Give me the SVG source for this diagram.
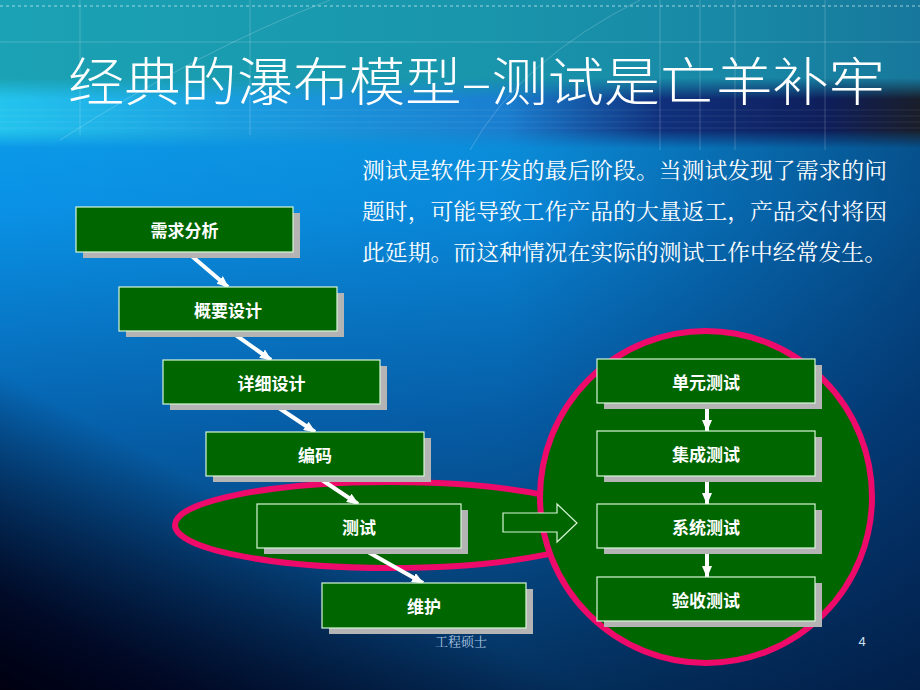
<svg xmlns="http://www.w3.org/2000/svg" width="920" height="690" viewBox="0 0 920 690">
<defs>
<linearGradient id="bg" x1="0" y1="0" x2="0" y2="1">
<stop offset="0" stop-color="#10a8ee"/>
<stop offset="0.3" stop-color="#0a92e6"/>
<stop offset="0.6" stop-color="#0664b0"/>
<stop offset="1" stop-color="#043462"/>
</linearGradient>
<linearGradient id="side" x1="0" y1="0" x2="1" y2="0">
<stop offset="0" stop-color="#000a30" stop-opacity="0"/>
<stop offset="0.55" stop-color="#000a30" stop-opacity="0.08"/>
<stop offset="1" stop-color="#000a30" stop-opacity="0.5"/>
</linearGradient>
<linearGradient id="corner" x1="0" y1="1" x2="0.22" y2="0.7">
<stop offset="0" stop-color="#000010" stop-opacity="1"/>
<stop offset="0.3" stop-color="#000018" stop-opacity="0.85"/>
<stop offset="1" stop-color="#000018" stop-opacity="0"/>
</linearGradient>
<linearGradient id="band" x1="0" y1="0" x2="1" y2="0">
<stop offset="0" stop-color="#1ba2b4"/>
<stop offset="0.5" stop-color="#1996ac"/>
<stop offset="0.8" stop-color="#1888a6"/>
<stop offset="1" stop-color="#17789c"/>
</linearGradient>
<linearGradient id="lowband" x1="0" y1="0" x2="1" y2="0">
<stop offset="0" stop-color="#24c4ee"/>
<stop offset="0.25" stop-color="#1a9ee0"/>
<stop offset="0.55" stop-color="#1a7ed0"/>
<stop offset="0.72" stop-color="#10307c"/>
<stop offset="0.9" stop-color="#0e1e5a"/>
<stop offset="1" stop-color="#1a1e2a"/>
</linearGradient>
<linearGradient id="lowfade" x1="0" y1="0" x2="0" y2="1">
<stop offset="0" stop-color="#ffffff" stop-opacity="0"/>
<stop offset="0.3" stop-color="#ffffff" stop-opacity="1"/>
<stop offset="0.75" stop-color="#ffffff" stop-opacity="1"/>
<stop offset="1" stop-color="#ffffff" stop-opacity="0"/>
</linearGradient>
<mask id="lm"><rect x="0" y="78" width="920" height="70" fill="url(#lowfade)"/></mask>
<linearGradient id="bandbottom" x1="0" y1="0" x2="0" y2="1">
<stop offset="0" stop-color="#ffffff" stop-opacity="1"/>
<stop offset="0.85" stop-color="#ffffff" stop-opacity="1"/>
<stop offset="1" stop-color="#ffffff" stop-opacity="0"/>
</linearGradient>
<mask id="bm"><rect x="0" y="0" width="920" height="140" fill="url(#bandbottom)"/></mask>
<marker id="ah" viewBox="0 0 12 10" refX="11" refY="5" markerWidth="12" markerHeight="10" markerUnits="userSpaceOnUse" orient="auto">
<path d="M0,0 L12,5 L0,10 Z" fill="#ffffff"/>
</marker>
<style>
.box{fill:#006600;stroke:#d8f5d8;stroke-width:1.2}
.sh{fill:#b4b4b4}
.lbl{fill:#ffffff;font-family:"Noto Sans CJK SC","Noto Sans",sans-serif;font-size:17px;font-weight:bold;text-anchor:middle;dominant-baseline:central}
.con{stroke:#ffffff;stroke-width:4;fill:none;marker-end:url(#ah)}
.para{fill:#ffffff;font-family:"Noto Serif CJK SC","Noto Sans CJK SC",serif;font-size:22px}
.grid{stroke:#ffffff;stroke-opacity:0.2;stroke-width:1}
.hl{stroke:#ffffff;stroke-opacity:0.08;stroke-width:1}
</style>
</defs>
<rect width="920" height="690" fill="url(#bg)"/>
<rect width="920" height="690" fill="url(#side)"/>
<rect width="920" height="690" fill="url(#corner)"/>
<g id="title-band">
<rect x="0" y="0" width="920" height="140" fill="url(#band)" mask="url(#bm)"/>
<rect x="0" y="78" width="920" height="70" fill="url(#lowband)" mask="url(#lm)"/>
<line x1="0" y1="6" x2="920" y2="6" stroke="#d8f4f8" stroke-width="1" stroke-dasharray="3,3" opacity="0.7"/>
<line x1="0" y1="42" x2="920" y2="42" class="grid"/>
<line x1="0" y1="110" x2="920" y2="110" class="hl"/>
<line x1="0" y1="116" x2="920" y2="116" class="hl"/>
<line x1="0" y1="122" x2="920" y2="122" class="hl"/>
<line x1="0" y1="128" x2="920" y2="128" class="hl"/>
<line x1="80" y1="0" x2="80" y2="135" class="grid"/>
<line x1="250" y1="0" x2="250" y2="135" class="grid"/>
<line x1="660" y1="0" x2="660" y2="150" class="grid"/>
<line x1="700" y1="0" x2="700" y2="150" class="grid"/>
<line x1="735" y1="0" x2="735" y2="150" class="grid"/>
<line x1="825" y1="0" x2="825" y2="150" class="grid"/>
<path d="M60,140 Q200,50 330,0" class="grid" fill="none"/>
<path d="M470,150 Q520,60 640,0" class="grid" fill="none"/>
</g>
<text x="68" y="101" font-family="'Noto Sans CJK SC','Noto Sans',sans-serif" font-size="52" font-weight="300" fill="#ffffff" textLength="817" lengthAdjust="spacingAndGlyphs">经典的瀑布模型–测试是亡羊补牢</text>
<g id="paragraph">
<text class="para" x="362" y="178" textLength="525" lengthAdjust="spacingAndGlyphs">测试是软件开发的最后阶段。当测试发现了需求的问</text>
<text class="para" x="362" y="219" textLength="525" lengthAdjust="spacingAndGlyphs">题时，可能导致工作产品的大量返工，产品交付将因</text>
<text class="para" x="362" y="260" textLength="525" lengthAdjust="spacingAndGlyphs">此延期。而这种情况在实际的测试工作中经常发生。</text>
</g>
<g id="test-ellipse">
<ellipse cx="390" cy="525" rx="215" ry="43" fill="#006600" stroke="#ee0a6a" stroke-width="6"/>
</g>
<g id="test-circle">
<circle cx="706" cy="497" r="166" fill="#006600" stroke="#ee0a6a" stroke-width="6"/>
</g>
<g id="connectors">
<line class="con" x1="187" y1="252" x2="228" y2="287"/>
<line class="con" x1="230" y1="331" x2="271" y2="360"/>
<line class="con" x1="273" y1="404" x2="315" y2="432"/>
<line class="con" x1="316" y1="476" x2="358" y2="504"/>
<line class="con" x1="361" y1="548" x2="423" y2="583"/>
<line class="con" x1="707" y1="403" x2="707" y2="431"/>
<line class="con" x1="707" y1="476" x2="707" y2="504"/>
<line class="con" x1="707" y1="548" x2="707" y2="577"/>
<polygon points="503,513 557,513 557,504 577,523 557,542 557,532 503,532" fill="#006600" stroke="#d8f5d8" stroke-width="1.2"/>
</g>
<g id="n1"><rect class="sh" x="83" y="213" width="217" height="45"/><rect class="box" x="76" y="207" width="217" height="45"/><text class="lbl" x="184.5" y="229.5">需求分析</text></g>
<g id="n2"><rect class="sh" x="126" y="293" width="218" height="44"/><rect class="box" x="119" y="287" width="218" height="44"/><text class="lbl" x="228" y="309">概要设计</text></g>
<g id="n3"><rect class="sh" x="170" y="366" width="217" height="44"/><rect class="box" x="163" y="360" width="217" height="44"/><text class="lbl" x="271.5" y="382">详细设计</text></g>
<g id="n4"><rect class="sh" x="213" y="438" width="218" height="44"/><rect class="box" x="206" y="432" width="218" height="44"/><text class="lbl" x="315" y="454">编码</text></g>
<g id="n5"><rect class="sh" x="264" y="510" width="204" height="44"/><rect class="box" x="257" y="504" width="204" height="44"/><text class="lbl" x="359" y="526">测试</text></g>
<g id="n6"><rect class="sh" x="329" y="589" width="204" height="45"/><rect class="box" x="322" y="583" width="204" height="45"/><text class="lbl" x="424" y="605.5">维护</text></g>
<g id="t1"><rect class="sh" x="604" y="365" width="218" height="44"/><rect class="box" x="597" y="359" width="218" height="44"/><text class="lbl" x="706" y="381">单元测试</text></g>
<g id="t2"><rect class="sh" x="604" y="437" width="218" height="45"/><rect class="box" x="597" y="431" width="218" height="45"/><text class="lbl" x="706" y="453.5">集成测试</text></g>
<g id="t3"><rect class="sh" x="604" y="510" width="218" height="44"/><rect class="box" x="597" y="504" width="218" height="44"/><text class="lbl" x="706" y="526">系统测试</text></g>
<g id="t4"><rect class="sh" x="604" y="583" width="218" height="44"/><rect class="box" x="597" y="577" width="218" height="44"/><text class="lbl" x="706" y="599">验收测试</text></g>
<text x="461" y="646" font-family="'Noto Serif CJK SC','Noto Sans CJK SC',serif" font-size="13" fill="#a8c4e0" text-anchor="middle">工程硕士</text>
<text x="862" y="646" font-family="'Liberation Sans',sans-serif" font-size="13" fill="#d0e0f0" text-anchor="middle">4</text>
</svg>
